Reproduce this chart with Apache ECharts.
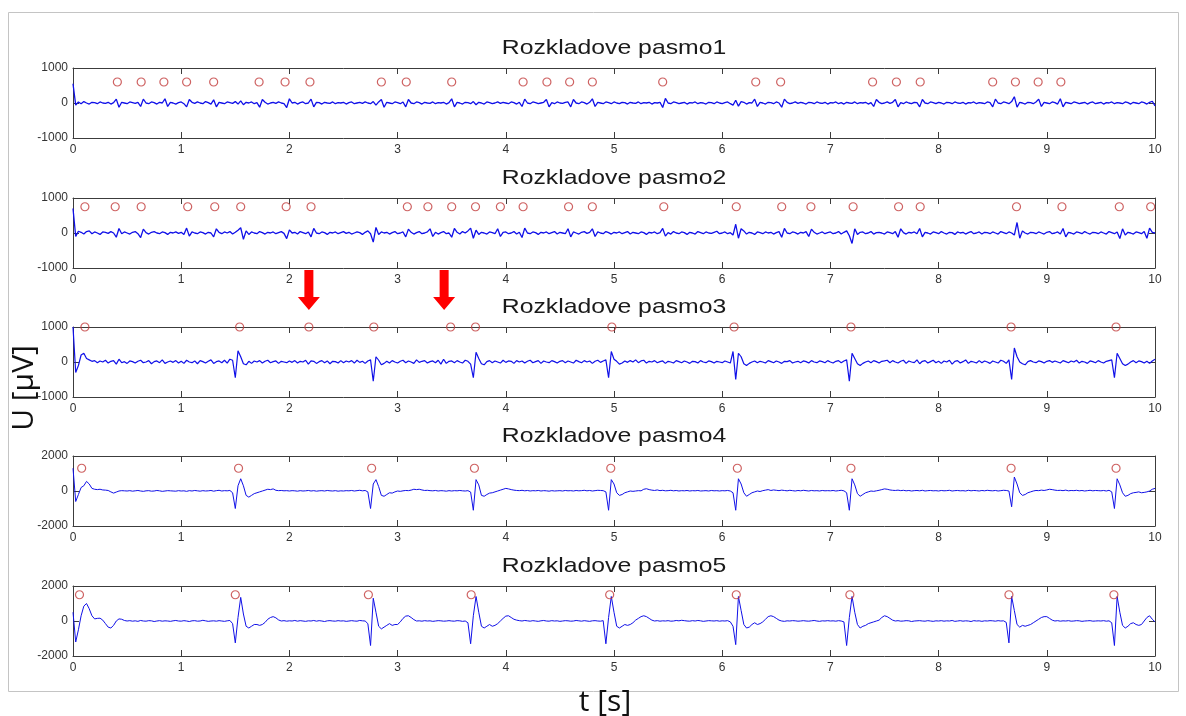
<!DOCTYPE html>
<html><head><meta charset="utf-8">
<script src="https://cdn.jsdelivr.net/npm/echarts@6/dist/echarts.min.js"></script>
<style>html,body{margin:0;padding:0;background:#fff;}#c{width:1186px;height:716px;}</style>
</head><body><div id="c"></div>
<script>
// ---------- data ----------
const panelTitles = ['Rozkladove pasmo1','Rozkladove pasmo2','Rozkladove pasmo3','Rozkladove pasmo4','Rozkladove pasmo5'];
const xTicks = [0,1,2,3,4,5,6,7,8,9,10];
const yLimits = [1000,1000,1000,2000,2000];
const sampleStepMs = 25; // samples every 0.025 s
const yName = 'U [µV]';
const xName = 't [s]';

const band1 = [
550,-60,30,-20,40,0,-30,20,10,-20,30,0,-10,20,-30,10,110,-120,20,0,
-20,30,10,-10,20,-100,110,0,-20,30,10,-30,20,0,120,-100,20,0,-30,10,
30,-20,-110,100,20,-10,30,0,-20,40,10,-30,90,-110,20,0,-20,30,10,-10,
40,-30,60,-50,20,0,30,-20,10,-120,100,20,-30,0,20,-10,30,0,-20,-130,
120,0,20,-30,10,30,-20,0,110,-110,20,10,-30,20,0,-10,30,-20,10,0,
20,-30,10,30,-20,0,20,-10,30,0,-20,40,-60,30,100,-120,20,0,-20,30,
10,-20,30,-110,100,0,-20,30,10,-30,20,0,-10,30,-20,10,0,20,-30,10,
120,-110,20,0,-30,20,10,-20,40,-50,20,0,-30,30,10,-20,0,30,-10,20,
0,-20,30,10,-30,20,-100,110,0,-20,30,10,-20,0,20,100,-110,10,-20,30,
0,-10,20,30,-110,100,0,-20,30,10,-30,20,120,-100,20,0,-20,30,10,-20,
30,0,-20,20,10,-30,20,0,-10,30,-20,10,0,20,-30,10,0,20,-130,130,
0,-20,30,10,-20,0,20,-30,10,0,30,-20,10,0,-30,20,10,-20,30,0,
-20,10,30,-20,-60,80,-90,40,20,-30,10,0,110,-100,20,0,-30,20,10,-20,
30,0,-120,110,20,-20,0,30,-10,20,0,-30,20,10,-20,30,0,-10,20,-30,
10,0,30,-20,10,-30,20,0,-10,30,-20,10,0,20,-30,10,-100,100,20,-20,
0,30,-10,20,100,-110,10,-20,30,0,-20,20,10,-110,100,0,-20,30,10,-20,
20,0,-30,20,10,-20,30,0,-10,20,-30,10,0,30,-20,10,0,-20,30,10,
-110,110,0,-20,30,10,-20,40,180,-120,20,0,-30,20,10,-20,30,110,-100,20,
0,-20,30,10,-30,120,-110,20,0,-20,30,10,-20,0,20,-30,10,30,-20,0,
20,-30,10,0,30,-20,10,0,-20,30,10,-30,20,0,-20,30,10,-30,20,50,
-80];

const band2 = [
700,-100,50,20,-30,40,60,-20,30,0,-40,30,20,-10,40,0,-120,130,-20,30,
0,-30,20,40,-20,-130,110,10,-30,20,40,0,-20,30,10,-40,20,0,30,-10,
20,-40,140,-90,30,0,-20,30,10,-30,20,0,-110,120,20,-20,30,0,40,-30,
20,80,150,-180,60,-40,30,0,-20,40,10,-30,20,0,30,-20,10,40,-10,-160,
90,0,20,-30,40,10,-20,30,-110,130,0,-20,30,10,-40,20,0,30,-20,10,
40,-10,20,-30,0,30,10,-40,20,60,-20,-260,160,-40,30,0,20,-30,10,40,
-20,0,30,-110,110,20,-30,10,40,-20,0,30,120,-100,20,-30,10,40,-20,0,
-120,130,20,-30,40,0,60,140,-150,80,-40,20,0,-30,30,10,-20,120,-100,20,
30,-20,0,40,-30,20,-130,140,0,-20,30,10,-40,20,0,30,-20,10,40,-30,
20,0,-20,120,-110,30,0,-30,20,40,-10,20,120,-100,30,0,-20,40,10,-30,
20,0,30,-20,10,40,-30,20,0,-20,30,10,-40,20,0,30,-20,10,130,-90,
10,-30,40,0,-20,30,10,-40,20,0,-30,40,10,-20,30,0,-10,20,50,-20,
0,30,-20,10,-60,250,-150,120,60,-30,20,0,-40,30,10,-20,30,0,20,-30,
10,40,-120,130,0,-20,30,10,-30,20,0,40,-100,110,20,-30,0,30,-20,10,
30,-20,0,40,-30,20,60,-80,-300,120,-40,20,30,-20,0,40,-30,10,20,0,
-30,30,10,-20,40,-120,120,10,-30,20,0,30,-20,130,-110,20,0,-30,30,10,
-20,40,0,-30,20,10,-40,30,0,20,-30,10,40,-20,0,30,-30,20,10,-20,
30,0,-30,40,10,-20,30,0,-60,300,-150,60,0,-30,20,10,-20,30,0,-30,
20,40,-20,0,30,-30,130,-110,20,0,-30,30,10,-20,40,0,-30,20,10,-20,
30,0,-30,40,10,-20,30,-160,120,-60,20,0,-30,30,10,-20,40,-150,140,20,
0];

const band3 = [
1000,-300,-100,200,250,100,60,20,40,-20,30,0,50,-30,20,40,-60,80,-20,10,
-40,30,10,-30,20,50,-20,0,40,-50,10,30,-20,60,-40,0,30,-10,40,-30,
20,-40,50,0,-20,30,-50,40,10,-30,20,60,-40,10,30,-20,50,-30,80,50,
-450,320,150,-50,-80,20,-40,30,0,40,-30,20,50,-20,10,30,-40,20,0,-20,
30,-10,40,-30,20,0,50,-60,30,20,-40,10,40,-20,30,-50,20,10,-30,40,
-20,30,0,40,-30,50,-10,20,-40,30,60,-550,150,50,-80,-40,20,-30,40,0,
-30,20,50,-20,30,0,-40,60,-10,20,40,-30,10,30,-20,50,-60,80,-40,20,
30,-20,40,0,-30,50,20,-60,-450,280,100,-50,-80,10,40,-20,30,0,-30,50,
-10,30,20,-40,40,0,30,-30,20,50,-20,10,40,-40,30,0,-20,40,10,-30,
20,40,-20,30,0,-30,50,10,-20,40,0,30,-40,20,50,-10,30,60,-450,300,
80,20,-60,-30,30,-10,40,0,60,-20,30,50,-30,20,0,40,-20,10,30,-40,
20,0,-30,40,10,-20,30,0,-40,20,10,-30,40,0,-20,30,10,-30,20,0,
-20,30,0,-30,300,-500,250,150,-50,-100,-40,0,30,-20,20,0,-30,40,10,-20,
30,0,-40,20,10,40,-30,0,20,-20,30,10,-30,40,0,-20,30,10,-20,40,
0,-30,20,40,-20,30,60,-550,250,100,-50,-100,-40,0,30,-20,40,10,-30,20,
30,50,-20,40,0,-30,20,50,-40,30,0,-20,60,-50,20,40,-30,10,50,-20,
20,-40,30,0,50,-60,20,40,-30,10,60,-40,20,0,-30,40,-20,30,0,-40,
30,0,-30,50,20,-40,60,-500,400,150,0,-50,-80,10,40,0,-20,30,10,-30,
20,40,-10,30,0,-30,40,10,-20,30,0,50,-30,20,0,-40,30,10,-20,40,
0,-30,20,40,60,-450,250,100,-50,-100,-60,0,40,-20,30,10,-30,20,-40,30,
80];

const band4 = [
1300,-600,-200,200,300,550,400,150,100,80,100,60,50,30,-50,-120,-60,0,20,10,
0,20,-10,10,30,0,-20,10,20,-10,0,30,10,-20,0,20,10,0,-10,20,
0,10,-20,20,0,30,10,-10,20,0,10,30,-10,20,40,0,20,10,30,-100,
-1000,300,700,300,-250,-350,-250,-150,-100,-50,0,50,100,80,120,40,20,30,10,20,
0,20,10,-10,20,0,10,30,0,20,-10,10,20,0,30,10,0,20,-10,10,
0,20,10,30,0,20,40,10,30,-50,-1000,400,650,250,-250,-300,-200,-100,-120,-50,
0,-20,10,30,20,50,100,80,100,60,30,40,20,10,30,0,20,10,-10,20,
0,20,10,30,10,0,20,-60,-1100,650,350,-250,-300,-200,-120,-100,-50,0,50,100,
150,120,80,50,30,20,40,10,30,0,20,10,30,0,20,10,-10,20,0,10,
20,0,30,10,20,0,30,10,20,40,10,30,0,20,40,30,20,-50,-1100,650,
400,-100,-250,-200,-100,-50,0,-20,0,20,10,100,130,80,50,30,60,20,40,10,
20,40,10,30,0,20,10,30,0,20,10,30,0,10,20,0,30,10,20,0,
20,10,30,0,-100,-1100,700,400,-100,-300,-200,-100,-50,0,-30,20,50,80,30,60,
40,20,50,30,10,40,20,0,30,10,40,20,0,30,10,20,0,30,10,20,
10,30,0,20,40,10,-100,-1100,700,350,-150,-300,-200,-100,-50,0,-20,10,40,80,
120,100,60,40,30,50,20,40,10,30,0,20,30,10,40,0,20,30,10,20,
0,30,10,20,40,0,20,30,10,20,0,40,10,30,20,0,30,10,40,20,
10,30,0,20,40,30,0,-900,800,400,-100,-250,-200,-100,-50,0,30,20,50,30,
60,100,80,50,30,40,20,50,10,30,20,40,10,30,0,20,40,10,30,20,
10,30,0,40,-50,-1000,700,350,-100,-300,-250,-150,-100,-80,-50,-100,-80,-50,0,100,
150];

const band5 = [
500,-1200,-500,300,850,1000,700,300,120,150,160,50,-150,-350,-400,-250,0,120,100,30,
0,20,-10,10,-20,30,0,-10,20,10,-30,0,20,-10,10,0,-20,10,30,0,
-10,20,0,-30,10,20,-10,0,40,10,-20,0,10,-10,20,0,-20,10,30,-150,
-1250,200,1350,400,-300,-400,-300,-200,-200,-250,-200,-80,100,200,250,180,60,0,20,-10,
10,0,30,-10,20,0,-20,10,0,30,-10,20,0,-30,10,20,0,-10,20,0,
10,-20,0,20,0,-10,30,10,0,-150,-1400,1300,500,-300,-450,-350,-250,-150,-250,-200,
-200,-50,150,280,300,200,80,0,10,-10,20,0,10,-20,0,20,10,-10,0,20,
0,-10,20,10,-20,0,-100,-1300,300,1400,500,-300,-400,-300,-200,-300,-250,-150,0,150,
280,300,200,100,50,20,0,30,10,-10,20,0,-20,10,30,0,-10,20,0,10,
-20,0,20,10,-10,0,30,10,-10,20,0,-20,10,20,0,-10,20,-1300,200,1400,
500,-300,-400,-300,-200,-250,-200,-100,50,150,250,300,250,150,50,0,20,-10,10,0,
20,-10,0,30,10,40,20,0,-10,20,0,30,10,-20,0,20,10,0,20,-10,
10,0,20,-50,-300,-1350,1400,600,-200,-400,-350,-200,-100,-200,-150,-50,100,250,300,250,
150,50,0,-20,10,0,20,10,-10,0,20,0,-10,10,30,0,-20,10,0,20,
0,10,-10,20,0,-50,-1400,200,1400,500,-200,-400,-300,-250,-150,-100,-50,0,50,200,
300,250,150,50,0,20,-10,0,20,10,-30,0,10,20,0,-10,20,0,-20,10,
0,20,-10,10,0,30,-20,0,20,-10,10,0,-30,20,0,10,-20,10,0,20,
10,-10,20,0,10,-80,-1250,1400,600,-200,-350,-250,-300,-250,-200,-100,0,100,200,250,
250,150,50,0,20,-10,10,0,20,-10,0,20,10,-20,0,10,20,-10,0,10,
0,20,-10,10,-100,-1400,1400,500,-250,-400,-300,-150,-100,-200,-250,-200,0,200,300,100,
-50];

// detected-peak markers (time in s) and the level they are drawn at
const marks1 = [0.41,0.63,0.84,1.05,1.30,1.72,1.96,2.19,2.85,3.08,3.50,4.16,4.38,4.59,4.80,5.45,6.31,6.54,7.39,7.61,7.83,8.50,8.71,8.92,9.13];
const marks2 = [0.11,0.39,0.63,1.06,1.31,1.55,1.97,2.20,3.09,3.28,3.50,3.72,3.95,4.16,4.58,4.80,5.46,6.13,6.55,6.82,7.21,7.63,7.83,8.72,9.14,9.67,9.96];
const marks3 = [0.11,1.54,2.18,2.78,3.49,3.72,4.98,6.11,7.19,8.67,9.64];
const marks4 = [0.08,1.53,2.76,3.71,4.97,6.14,7.19,8.67,9.64];
const marks5 = [0.06,1.50,2.73,3.68,4.96,6.13,7.18,8.65,9.62];
const markLevels = [600,750,1000,1300,1500];
const arrowTimes = [2.18,3.43];

// ---------- layout / style ----------
const bands = [band1,band2,band3,band4,band5];
const marks = [marks1,marks2,marks3,marks4,marks5];
const lineWidths = [1.3,1.3,1.2,1,1];
const gridTops = [68,198,327,456,586];
const GL = 73, GW = 1082, GH = 70;
const AX = '#3c3c3c';
const labelFont = {fontSize:12,fontFamily:'Liberation Sans',color:'#333'};

const grids=[], xAxes=[], yAxes=[], series=[];
for (let p=0;p<5;p++){
  grids.push({left:GL, top:gridTops[p], width:GW, height:GH, show:false});
  const tick = {show:true, inside:true, length:6, lineStyle:{color:AX,width:1}};
  const line = {show:true, onZero:false, lineStyle:{color:AX,width:1}};
  const xBase = {gridIndex:p, type:'value', min:xTicks[0], max:xTicks[xTicks.length-1], interval:1,
    axisLine:line, axisTick:tick, splitLine:{show:false}};
  xAxes.push(Object.assign({}, xBase, {position:'bottom', axisLabel:Object.assign({show:true, margin:6, formatter:v=>String(v)}, labelFont)}));
  xAxes.push(Object.assign({}, xBase, {position:'top', axisLabel:{show:false}}));
  const yBase = {gridIndex:p, type:'value', min:-yLimits[p], max:yLimits[p], interval:yLimits[p],
    axisLine:line, axisTick:tick, splitLine:{show:false}};
  yAxes.push(Object.assign({}, yBase, {position:'left', axisLabel:Object.assign({show:true, margin:5, formatter:v=>String(v)}, labelFont)}));
  yAxes.push(Object.assign({}, yBase, {position:'right', axisLabel:{show:false}}));
  series.push({type:'line', xAxisIndex:2*p, yAxisIndex:2*p, symbol:'none', showSymbol:false,
    data: bands[p].map((v,i)=>[i*sampleStepMs/1000, v]),
    lineStyle:{color:'#1010e8', width:lineWidths[p]}, z:2, silent:true});
  series.push({type:'scatter', xAxisIndex:2*p, yAxisIndex:2*p, clip:false,
    data: marks[p].map(t=>[t, markLevels[p]]),
    symbol:'circle', symbolSize:8,
    itemStyle:{color:'rgba(0,0,0,0)', borderColor:'#c23b3b', borderWidth:1.2}, z:3, silent:true});
}

const chart = echarts.init(document.getElementById('c'), null, {renderer:'canvas'});
chart.setOption({animation:false, backgroundColor:'#fff', grid:grids, xAxis:xAxes, yAxis:yAxes, series:series});

const g = [];
g.push({type:'rect', shape:{x:8.5,y:12.5,width:1170,height:679}, style:{fill:'none', stroke:'#c4c4c4', lineWidth:1}, z:0});
const cx = GL + GW/2;
panelTitles.forEach((t,p)=>{
  g.push({type:'text', x:cx, y:gridTops[p]-20, scaleX:1.18, z:5,
    style:{text:t, x:0, y:0, textAlign:'center', textVerticalAlign:'middle', align:'center', verticalAlign:'middle',
      fontSize:21, fontFamily:'Liberation Sans', fill:'#1a1a1a'}});
});
g.push({type:'text', x:24, y:388, rotation:Math.PI/2, z:5,
  style:{text:yName, x:0, y:0, textAlign:'center', textVerticalAlign:'middle', align:'center', verticalAlign:'middle',
    fontSize:30, fontFamily:'Open Sans', fill:'#111'}});
g.push({type:'text', x:605, y:702, z:5,
  style:{text:xName, x:0, y:0, textAlign:'center', textVerticalAlign:'middle', align:'center', verticalAlign:'middle',
    fontSize:30, fontFamily:'Open Sans', fill:'#111'}});
arrowTimes.forEach(t=>{
  const x = chart.convertToPixel({xAxisIndex:4}, t);
  g.push({type:'polygon', z:6, shape:{points:[[x-4.5,270],[x+4.5,270],[x+4.5,297],[x+11,297],[x,310],[x-11,297],[x-4.5,297]]},
    style:{fill:'#ff0000'}});
});
chart.setOption({graphic:g});
</script>
</body></html>
